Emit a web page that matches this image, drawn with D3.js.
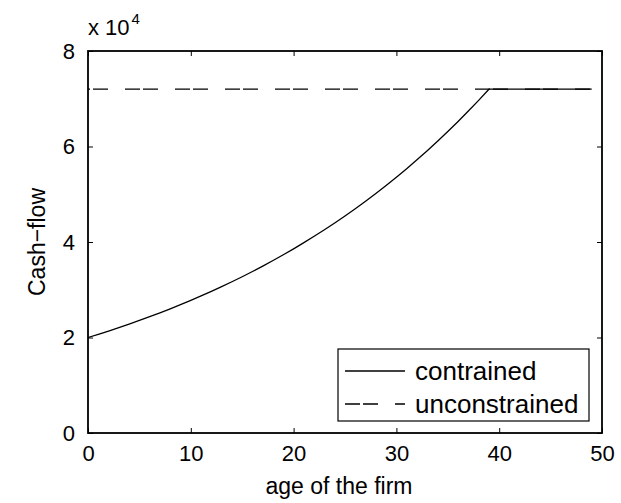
<!DOCTYPE html>
<html>
<head>
<meta charset="utf-8">
<script src="https://cdn.jsdelivr.net/npm/d3@7"></script>
<style>
  body { margin: 0; background: #fff; }
  svg { font-family: "Liberation Sans", Arial, sans-serif; }
</style>
</head>
<body>
<svg id="chart"></svg>
<script>
// age of the firm
var ages = d3.range(0, 50);
// constrained cash-flow
var constrained = [20000, 20670, 21360, 22070, 22810, 23570, 24360, 25170, 26010, 26880,
                   27780, 28700, 29660, 30650, 31670, 32730, 33820, 34950, 36120, 37330,
                   38570, 39860, 41190, 42570, 43990, 45460, 46980, 48540, 50160, 51840,
                   53570, 55360, 57210, 59120, 61090, 63130, 65240, 67420, 69670, 72000,
                   72000, 72000, 72000, 72000, 72000, 72000, 72000, 72000, 72000, 72000];
// unconstrained cash-flow
var unconstrained = [72000, 72000, 72000, 72000, 72000, 72000, 72000, 72000, 72000, 72000,
                     72000, 72000, 72000, 72000, 72000, 72000, 72000, 72000, 72000, 72000,
                     72000, 72000, 72000, 72000, 72000, 72000, 72000, 72000, 72000, 72000,
                     72000, 72000, 72000, 72000, 72000, 72000, 72000, 72000, 72000, 72000,
                     72000, 72000, 72000, 72000, 72000, 72000, 72000, 72000, 72000, 72000];
var xTicks = [0, 10, 20, 30, 40, 50];
var yTicks = [0, 2, 4, 6, 8];
var legendNames = ["contrained", "unconstrained"];

var width = 621, height = 503;
var margin = {top: 51, right: 19, bottom: 70, left: 88};
var w = width - margin.left - margin.right,
    h = height - margin.top - margin.bottom;

var svg = d3.select("#chart").attr("width", width).attr("height", height);
var g = svg.append("g").attr("transform", "translate(" + margin.left + "," + margin.top + ")");

var x = d3.scaleLinear().domain([0, 50]).range([0, w]);
var y = d3.scaleLinear().domain([0, 80000]).range([h, 0]);

// axes (inward ticks on all four sides, matlab style)
function styleAxis(sel) {
  sel.select(".domain").remove();
  sel.selectAll(".tick line").attr("stroke", "#000").attr("stroke-width", 1);
}
g.append("g").attr("transform", "translate(0," + h + ")")
  .call(d3.axisBottom(x).tickValues(xTicks).tickSizeInner(-5).tickSizeOuter(0).tickPadding(12))
  .call(styleAxis);
g.append("g")
  .call(d3.axisTop(x).tickValues(xTicks).tickSizeInner(-5).tickSizeOuter(0).tickFormat(""))
  .call(styleAxis);
g.append("g")
  .call(d3.axisLeft(y).tickValues(yTicks.map(function(d) { return d * 10000; }))
    .tickFormat(function(d) { return d / 10000; }).tickSizeInner(-5).tickSizeOuter(0).tickPadding(13))
  .call(styleAxis);
g.append("g").attr("transform", "translate(" + w + ",0)")
  .call(d3.axisRight(y).tickValues(yTicks.map(function(d) { return d * 10000; }))
    .tickSizeInner(-5).tickSizeOuter(0).tickFormat(""))
  .call(styleAxis);

g.selectAll(".tick text").attr("font-size", 22).attr("fill", "#000")
  .attr("font-family", "Liberation Sans, Arial, sans-serif");

// box
g.append("rect").attr("width", w).attr("height", h)
  .attr("fill", "none").attr("stroke", "#000").attr("stroke-width", 1.8);

// lines
var line = d3.line()
  .x(function(d, i) { return x(ages[i]); })
  .y(function(d) { return y(d); });

g.append("path").datum(unconstrained)
  .attr("d", line).attr("fill", "none").attr("stroke", "#000").attr("stroke-width", 1.3)
  .attr("stroke-dasharray", "15,3,15,17").attr("stroke-dashoffset", 13);

g.append("path").datum(constrained)
  .attr("d", line).attr("fill", "none").attr("stroke", "#000").attr("stroke-width", 1.3);

// exponent label
var ex = svg.append("text").attr("x", 88).attr("y", 35).attr("font-size", 22).attr("fill", "#000");
ex.append("tspan").text("x 10");
ex.append("tspan").attr("font-size", 15).attr("dx", 2).attr("dy", -11).text("4");

// axis labels
svg.append("text").attr("x", margin.left + w / 2 - 6).attr("y", 494)
  .attr("text-anchor", "middle").attr("font-size", 23).text("age of the firm");
svg.append("text").attr("transform", "translate(45," + (margin.top + h / 2) + ") rotate(-90)")
  .attr("text-anchor", "middle").attr("font-size", 23).text("Cash\u2212flow");

// legend
var lg = g.append("g").attr("transform", "translate(" + (w - 264) + "," + (h - 84) + ")");
lg.append("rect").attr("width", 251).attr("height", 72)
  .attr("fill", "#fff").attr("stroke", "#000").attr("stroke-width", 1.2);
var item = lg.selectAll(".item").data(legendNames).enter().append("g")
  .attr("transform", function(d, i) { return "translate(0," + (22 + i * 33) + ")"; });
item.append("line").attr("x1", 7).attr("x2", 67).attr("y1", 0).attr("y2", 0)
  .attr("stroke", "#000").attr("stroke-width", 1.3)
  .attr("stroke-dasharray", function(d, i) { return i === 1 ? "15,3,15,17" : null; });
item.append("text").attr("x", 77).attr("y", 9).attr("font-size", 26).text(function(d) { return d; });
</script>
</body>
</html>
